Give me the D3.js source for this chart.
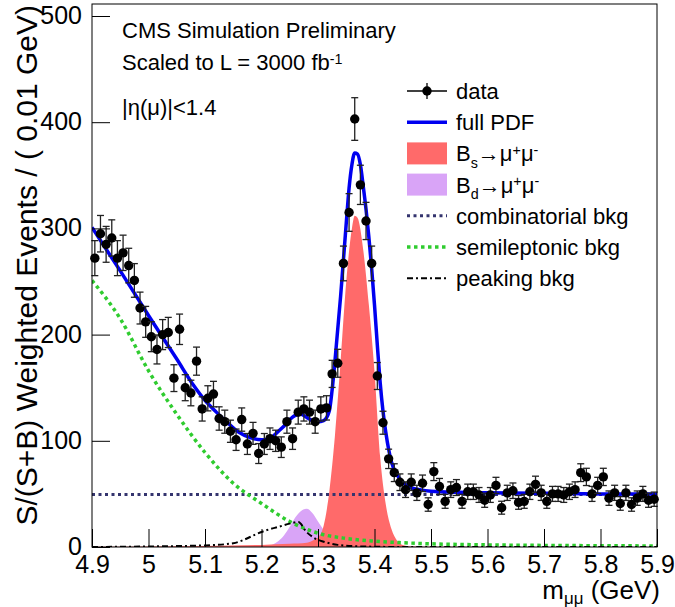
<!DOCTYPE html>
<html>
<head>
<meta charset="utf-8">
<script src="https://cdn.jsdelivr.net/npm/d3@7"></script>
<style>
  body { margin: 0; background: #fff; }
  svg text { font-family: "Liberation Sans", Arial, Helvetica, sans-serif; fill: #000; }
</style>
</head>
<body>
<div id="chart"></div>
<script>
// histogram: 100 bins of 0.01 GeV from 4.9 to 5.9
var mass_range = [4.9, 5.9];
var bin_width  = 0.01;
var data_counts = [
  272, 295, 285, 291, 272, 277, 265, 251, 225, 212,
  198, 186, 200, 202, 159, 205, 150, 145, 175, 130,
  140, 144, 121, 118, 109, 101, 120,  97, 107,  88,
   97, 102, 100,  94, 118, 102, 127, 130, 127, 118,
  130, 131, 163, 173, 267, 315, 403, 341, 307, 267,
  161, 117,  83,  70,  61,  54,  61,  51,  60,  40,
   71,  57,  43,  54,  56,  43,  52,  52,  49,  44,
   49,  58,  37,  51,  53,  42,  43,  52,  59,  51,
   43,  50,  50,  49,  52,  54,  70,  66,  50,  58,
   66,  46,  51,  41,  51,  40,  46,  50,  44,  45
];

// full PDF
var pdf_mass = [4.90, 4.95, 5.00, 5.05, 5.08, 5.10, 5.12, 5.14, 5.16, 5.18, 5.20, 5.21, 5.22, 5.23,
                5.24, 5.25, 5.26, 5.27, 5.28, 5.29, 5.30, 5.31, 5.32, 5.325, 5.33, 5.34, 5.35,
                5.355, 5.36, 5.365, 5.37, 5.375, 5.38, 5.385, 5.39, 5.395, 5.40, 5.405, 5.41,
                5.415, 5.42, 5.425, 5.43, 5.44, 5.45, 5.46, 5.48, 5.50, 5.55, 5.60, 5.70, 5.80, 5.90];
var pdf_vals = [301, 260, 218, 177, 152, 138, 127, 117, 108, 103, 101, 101, 104, 109,
                114, 120, 124, 125, 122, 119, 118, 119, 128, 148, 175, 236, 305,
                338, 360, 371, 370, 360, 340, 318, 292, 262, 228, 190, 155,
                128, 108, 92, 80, 68, 61, 57, 54, 52.5, 51.5, 51, 50.5, 50, 50];

// B_s -> mu mu component
var bs_mass = [4.90, 5.00, 5.10, 5.20, 5.25, 5.28, 5.29, 5.30, 5.31, 5.32, 5.33, 5.34, 5.35, 5.36,
               5.365, 5.37, 5.38, 5.39, 5.40, 5.41, 5.42, 5.43, 5.44, 5.45, 5.47, 5.50, 5.90];
var bs_vals = [0.3, 0.5, 1, 2, 3, 4, 6, 9, 20, 52, 105, 175, 250, 300,
               312, 310, 280, 228, 165, 85, 40, 17, 6, 2, 0.5, 0.2, 0];

// B_d -> mu mu component
var bd_mass = [4.90, 5.20, 5.21, 5.22, 5.23, 5.24, 5.25, 5.26, 5.27, 5.28, 5.29, 5.30, 5.31,
               5.32, 5.33, 5.34, 5.35, 5.36, 5.40, 5.90];
var bd_vals = [0, 0.3, 0.9, 2.4, 5.7, 11, 19, 28, 34, 36, 32, 24, 16,
               9, 4, 1.7, 0.6, 0.2, 0, 0];

// backgrounds
var comb_mass = [4.90, 5.90];
var comb_vals = [49.5, 49.5];

var semi_mass = [4.90, 4.95, 5.00, 5.05, 5.10, 5.15, 5.20, 5.25, 5.30, 5.35, 5.40, 5.45, 5.50, 5.60, 5.70, 5.80, 5.90];
var semi_vals = [251, 215, 166, 125, 89, 60, 41, 24, 13, 8, 5.5, 4, 3, 2, 1.5, 1.2, 1];

var peak_mass = [4.90, 5.00, 5.10, 5.15, 5.17, 5.19, 5.21, 5.23, 5.25, 5.265, 5.28, 5.295, 5.31, 5.335, 5.38, 5.45, 5.90];
var peak_vals = [0, 0.5, 1.5, 3.5, 7, 12, 16, 19, 22, 23.5, 14, 8, 5, 2, 0.5, 0, 0];

var x_ticks = [4.9, 5.0, 5.1, 5.2, 5.3, 5.4, 5.5, 5.6, 5.7, 5.8, 5.9];
var y_ticks = [0, 100, 200, 300, 400, 500];

var text_lines = [
  [["CMS Simulation Preliminary", 0]],
  [["Scaled to L = 3000 fb", 0], ["-1", -1]],
  [["|\u03b7(\u03bc)|<1.4", 0]]
];
var legend_labels = [
  [["data", 0]],
  [["full PDF", 0]],
  [["B", 0], ["s", 1], ["\u2192\u03bc", 0], ["+", -1], ["\u03bc", 0], ["-", -1]],
  [["B", 0], ["d", 1], ["\u2192\u03bc", 0], ["+", -1], ["\u03bc", 0], ["-", -1]],
  [["combinatorial bkg", 0]],
  [["semileptonic bkg", 0]],
  [["peaking bkg", 0]]
];

var col_bs = "#ff6a6a", col_bd = "#d9a4f7";

function zip(xs, ys)
{
  return xs.map(function (v, i) { return [v, ys[i]]; });
}

// text with sub/superscripts: shift 1 = subscript, -1 = superscript
function add_rich(txt, parts, size, shift)
{
  var cur = 0;
  shift = shift || 0.28;
  parts.forEach(function (p) {
    var target = p[1] * size * shift;
    var t = txt.append("tspan").text(p[0]).attr("dy", target - cur);
    if (p[1] != 0) t.attr("font-size", size * 0.65);
    cur = target;
  });
}

function add_svg(wrapper)
{
  return d3.select(wrapper).append("svg").attr("width", 675).attr("height", 607);
}

function draw_chart(wrapper)
{
  var svg = add_svg(wrapper);
  var left = 92, right = 657, top = 4, bottom = 547;

  var scalex = d3.scaleLinear().domain(mass_range).range([left, right]);
  var scaley = d3.scaleLinear().domain([0, (bottom - top) / 1.062]).range([bottom, top]);

  var defs = svg.append("defs");
  defs.append("clipPath").attr("id", "clip").append("rect")
    .attr("x", left).attr("y", top).attr("width", right - left).attr("height", bottom - top);
  var plot = svg.append("g").attr("clip-path", "url(#clip)");

  var area = d3.area()
    .x(function (d) { return scalex(d[0]); })
    .y0(scaley(0))
    .y1(function (d) { return scaley(d[1]); })
    .curve(d3.curveMonotoneX);
  var line = d3.line()
    .x(function (d) { return scalex(d[0]); })
    .y(function (d) { return scaley(d[1]); })
    .curve(d3.curveMonotoneX);

  plot.append("path").datum(zip(bd_mass, bd_vals)).attr("d", area).attr("fill", col_bd);
  plot.append("path").datum(zip(bs_mass, bs_vals)).attr("d", area).attr("fill", col_bs);

  plot.append("path").datum(zip(comb_mass, comb_vals)).attr("d", line)
    .attr("fill", "none").attr("stroke", "#34346e").attr("stroke-width", 3).attr("stroke-dasharray", "3,3.5");
  plot.append("path").datum(zip(semi_mass, semi_vals)).attr("d", line)
    .attr("fill", "none").attr("stroke", "#2fcc2f").attr("stroke-width", 3.5).attr("stroke-dasharray", "3.5,3.5");
  plot.append("path").datum(zip(peak_mass, peak_vals)).attr("d", line)
    .attr("fill", "none").attr("stroke", "#000").attr("stroke-width", 2).attr("stroke-dasharray", "6,3,2,3");
  plot.append("path").datum(zip(pdf_mass, pdf_vals)).attr("d", line)
    .attr("fill", "none").attr("stroke", "#0000f0").attr("stroke-width", 3.5);

  // data points with Poisson error bars
  var points = data_counts.map(function (n, i) {
    return { x: mass_range[0] + bin_width * (i + 0.5), n: n, e: Math.sqrt(n) };
  });
  var pts = svg.append("g").selectAll("g.pt").data(points).enter().append("g").attr("class", "pt");
  pts.append("line")
    .attr("x1", function (d) { return scalex(d.x); }).attr("x2", function (d) { return scalex(d.x); })
    .attr("y1", function (d) { return scaley(d.n - d.e); }).attr("y2", function (d) { return scaley(d.n + d.e); })
    .attr("stroke", "#222").attr("stroke-width", 1.3);
  [-1, 1].forEach(function (s) {
    pts.append("line")
      .attr("x1", function (d) { return scalex(d.x) - 3.5; }).attr("x2", function (d) { return scalex(d.x) + 3.5; })
      .attr("y1", function (d) { return scaley(d.n + s * d.e); }).attr("y2", function (d) { return scaley(d.n + s * d.e); })
      .attr("stroke", "#222").attr("stroke-width", 1.3);
  });
  pts.append("circle")
    .attr("cx", function (d) { return scalex(d.x); })
    .attr("cy", function (d) { return scaley(d.n); })
    .attr("r", 4.7).attr("fill", "#000");

  // axes
  var minor_x = d3.range(0, 51).map(function (i) { return 4.9 + i * 0.02; });
  var minor_y = d3.range(0, 26).map(function (i) { return i * 20; });

  var gx = svg.append("g").attr("transform", "translate(0," + bottom + ")");
  gx.call(d3.axisBottom(scalex).tickValues(minor_x).tickSize(-9).tickFormat(""));
  gx.call(d3.axisBottom(scalex).tickValues(x_ticks).tickSize(-18).tickPadding(8).tickFormat(d3.format(".1~f")));
  var gy = svg.append("g").attr("transform", "translate(" + left + ",0)");
  gy.call(d3.axisLeft(scaley).tickValues(minor_y).tickSize(-9).tickFormat(""));
  gy.call(d3.axisLeft(scaley).tickValues(y_ticks).tickSize(-18).tickPadding(10).tickFormat(d3.format("d")));
  svg.selectAll(".domain").remove();
  svg.selectAll(".tick line").attr("stroke", "#000");
  svg.selectAll(".tick text").attr("font-size", 25).attr("font-family", "Liberation Sans, Arial, sans-serif");
  gy.selectAll(".tick text").attr("dy", "0.3em");

  svg.append("rect").attr("x", left).attr("y", top).attr("width", right - left).attr("height", bottom - top)
    .attr("fill", "none").attr("stroke", "#000").attr("stroke-width", 1);

  // axis titles
  var xt = svg.append("text").attr("x", right + 3).attr("y", 599).attr("text-anchor", "end").attr("font-size", 26);
  add_rich(xt, [["m", 0], ["\u03bc\u03bc", 1], [" (GeV)", 0]], 26, 0.18);
  svg.append("text").attr("transform", "translate(37,5) rotate(-90)")
    .attr("text-anchor", "end").attr("font-size", 30)
    .text("S/(S+B) Weighted Events / ( 0.01 GeV)");

  // labels in the frame
  text_lines.forEach(function (parts, i) {
    var t = svg.append("text").attr("x", 122).attr("y", [38, 70, 115][i]).attr("font-size", 22);
    add_rich(t, parts, 22);
  });

  // legend
  var ly = function (i) { return 91 + 31.2 * i; };
  var lg = svg.append("g");
  legend_labels.forEach(function (parts, i) {
    var t = lg.append("text").attr("x", 456).attr("y", ly(i) + 8).attr("font-size", 22);
    add_rich(t, parts, 22);
  });
  lg.append("line").attr("x1", 407).attr("x2", 447).attr("y1", ly(0)).attr("y2", ly(0)).attr("stroke", "#000").attr("stroke-width", 1.3);
  lg.append("line").attr("x1", 427).attr("x2", 427).attr("y1", ly(0) - 8).attr("y2", ly(0) + 8).attr("stroke", "#000").attr("stroke-width", 1.3);
  lg.append("circle").attr("cx", 427).attr("cy", ly(0)).attr("r", 4.7).attr("fill", "#000");
  lg.append("line").attr("x1", 407).attr("x2", 447).attr("y1", ly(1)).attr("y2", ly(1)).attr("stroke", "#0000f0").attr("stroke-width", 3.5);
  lg.append("rect").attr("x", 407).attr("y", ly(2) - 11).attr("width", 40).attr("height", 22).attr("fill", col_bs);
  lg.append("rect").attr("x", 407).attr("y", ly(3) - 11).attr("width", 40).attr("height", 22).attr("fill", col_bd);
  lg.append("line").attr("x1", 407).attr("x2", 447).attr("y1", ly(4)).attr("y2", ly(4)).attr("stroke", "#34346e").attr("stroke-width", 3).attr("stroke-dasharray", "3,3.5");
  lg.append("line").attr("x1", 407).attr("x2", 447).attr("y1", ly(5)).attr("y2", ly(5)).attr("stroke", "#2fcc2f").attr("stroke-width", 3.5).attr("stroke-dasharray", "3.5,3.5");
  lg.append("line").attr("x1", 407).attr("x2", 447).attr("y1", ly(6)).attr("y2", ly(6)).attr("stroke", "#000").attr("stroke-width", 2).attr("stroke-dasharray", "6,3,2,3");
}

draw_chart("#chart");
</script>
</body>
</html>
